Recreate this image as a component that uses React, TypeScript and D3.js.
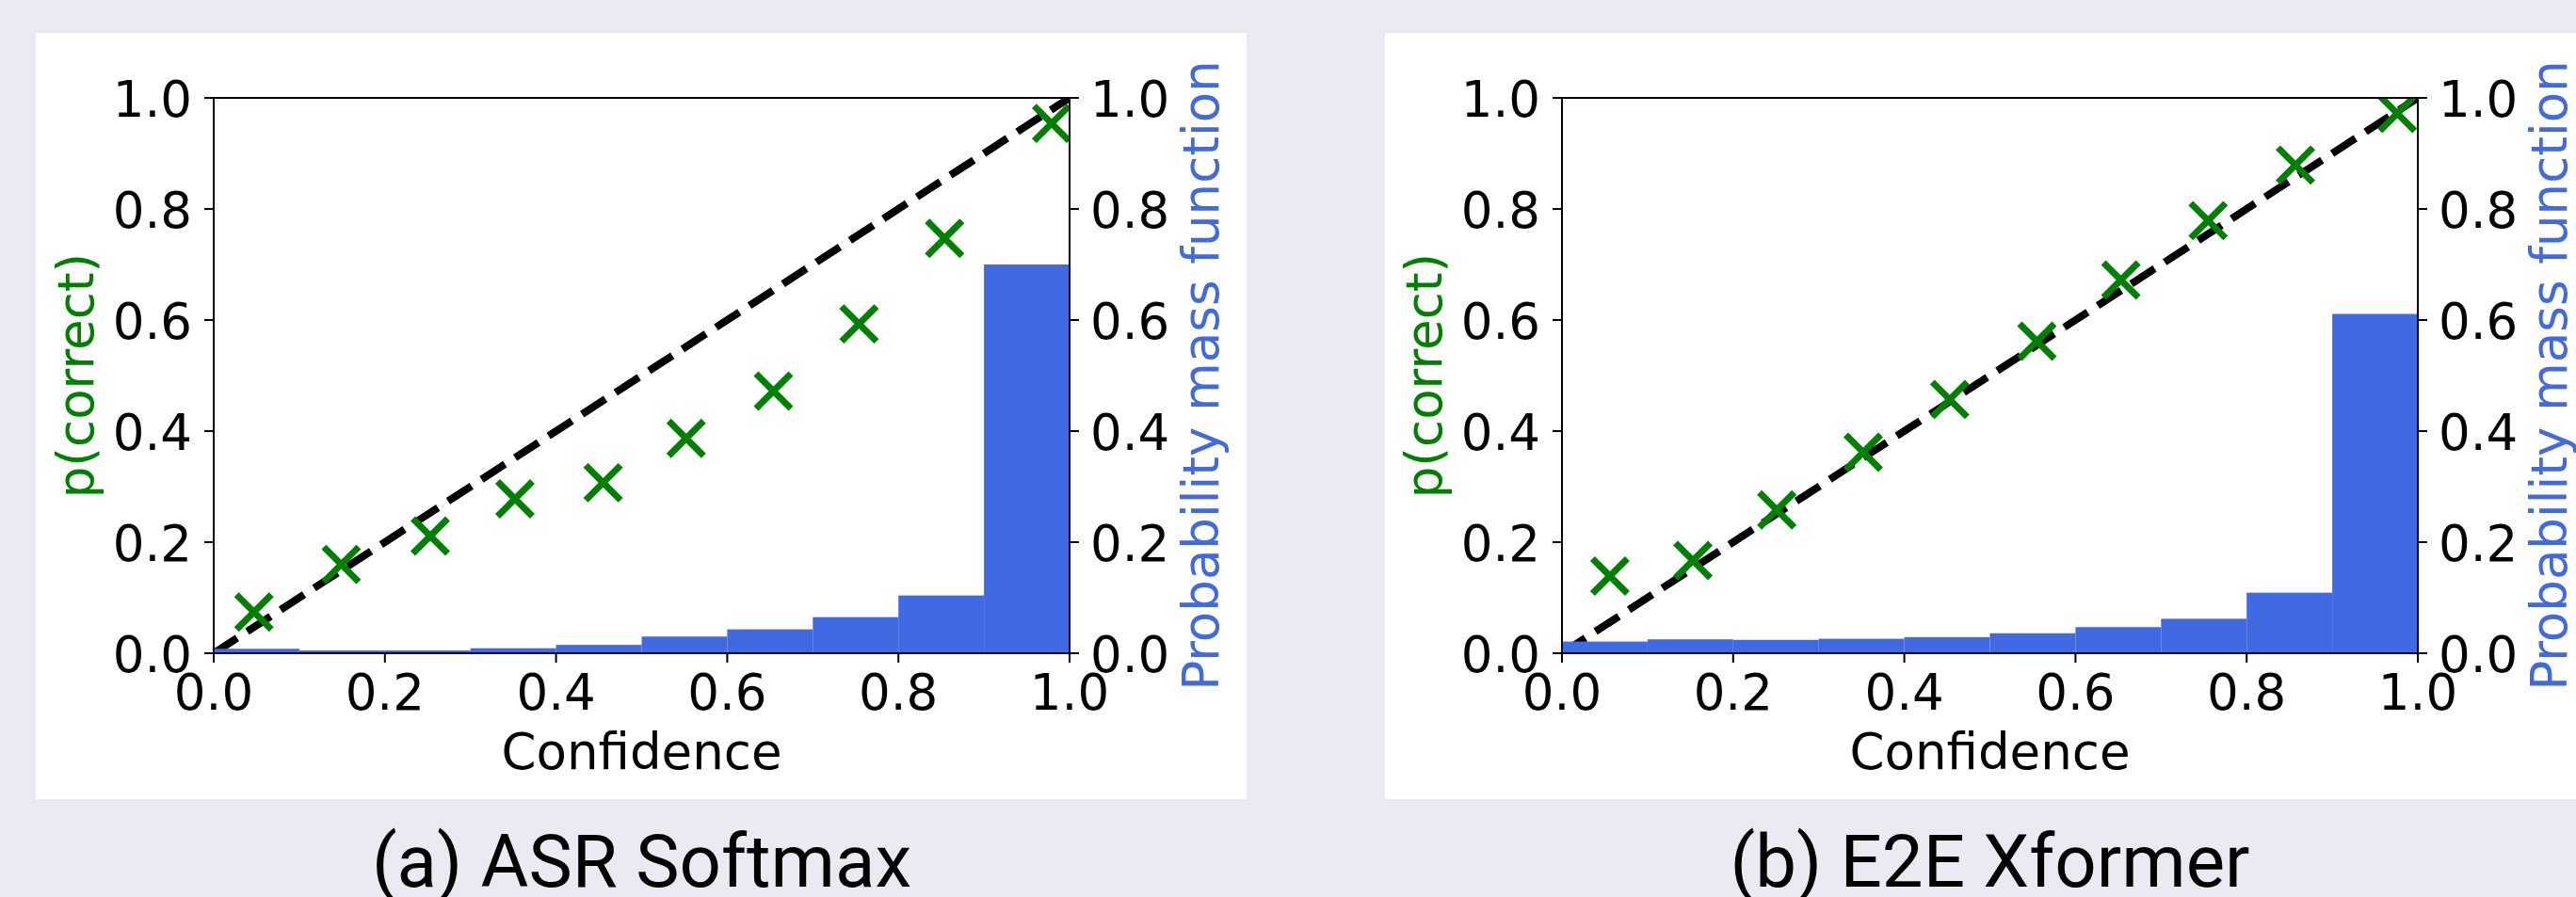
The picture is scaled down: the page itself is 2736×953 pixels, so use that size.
import React, { useEffect } from "react";
import * as d3 from "d3";

// reliability diagrams: accuracy per confidence bin + pmf of confidences
const binStarts = [0.0, 0.1, 0.2, 0.3, 0.4, 0.5, 0.6, 0.7, 0.8, 0.9];
const tickValues = [0.0, 0.2, 0.4, 0.6, 0.8, 1.0];

const softmaxConf = [0.047, 0.149, 0.253, 0.352, 0.455, 0.552, 0.654, 0.754, 0.854, 0.979];
const softmaxAcc = [0.074, 0.160, 0.211, 0.278, 0.307, 0.387, 0.472, 0.593, 0.747, 0.954];
const softmaxPmf = [0.008, 0.005, 0.005, 0.009, 0.015, 0.030, 0.043, 0.065, 0.104, 0.700];

const xformerConf = [0.056, 0.153, 0.251, 0.352, 0.453, 0.555, 0.653, 0.755, 0.857, 0.976];
const xformerAcc = [0.139, 0.167, 0.258, 0.362, 0.457, 0.562, 0.672, 0.779, 0.879, 0.972];
const xformerPmf = [0.021, 0.025, 0.024, 0.026, 0.029, 0.036, 0.047, 0.062, 0.109, 0.611];

const captions = ["(a) ASR Softmax", "(b) E2E Xformer"];

const W = 2736, H = 953;
const FONT = "'DejaVu Sans', sans-serif";
const FS = 53;
const GREEN = "#008000";
const BLUE = "#4169E1";

type PanelProps = {
  id: string;
  conf: number[];
  acc: number[];
  pmf: number[];
  caption: string;
  left: number;
  right: number;
  boxX: number;
  boxW: number;
};

const Panel = ({ id, conf, acc, pmf, caption, left, right, boxX, boxW }: PanelProps) => {
  const top = 104, bottom = 694;
  const x = d3.scaleLinear().domain([0, 1]).range([left, right]);
  const y1 = d3.scaleLinear().domain([0, 1]).range([bottom, top]);
  const y2 = d3.scaleLinear().domain([0, 1]).range([bottom, top]);
  const diag = d3.line<number>().x(d => x(d)).y(d => y1(d))([0, 1]) || "";
  const cx = (left + right) / 2, cy = (top + bottom) / 2;
  const m = 18.5;
  return (
    <g>
      <rect x={boxX} y={35} width={boxW} height={814} fill="#ffffff" />
      <defs>
        <clipPath id={"clip-" + id}>
          <rect x={left} y={top} width={right - left} height={bottom - top} />
        </clipPath>
      </defs>
      <g clipPath={`url(#clip-${id})`}>
        <path d={diag} stroke="#000" strokeWidth={8} strokeDasharray="29.6 12.8" fill="none" />
        {conf.map((c, i) => {
          const px = x(c), py = y1(acc[i]);
          return (
            <path key={i} d={`M${px - m},${py - m}L${px + m},${py + m}M${px - m},${py + m}L${px + m},${py - m}`}
              stroke={GREEN} strokeWidth={7} fill="none" />
          );
        })}
        {binStarts.map((b, i) => (
          <rect key={i} x={x(b)} y={y2(pmf[i])} width={x(b + 0.1) - x(b)} height={bottom - y2(pmf[i])} fill={BLUE} />
        ))}
      </g>
      <rect x={left} y={top} width={right - left} height={bottom - top} fill="none" stroke="#000" strokeWidth={2} />
      {tickValues.map((t, i) => (
        <g key={"x" + i}>
          <line x1={x(t)} x2={x(t)} y1={bottom} y2={bottom + 10} stroke="#000" strokeWidth={2} />
          <text x={x(t)} y={bottom + 60} textAnchor="middle" fontFamily={FONT} fontSize={FS}>{t.toFixed(1)}</text>
          <line x1={left - 10} x2={left} y1={y1(t)} y2={y1(t)} stroke="#000" strokeWidth={2} />
          <text x={left - 23} y={y1(t) + 20} textAnchor="end" fontFamily={FONT} fontSize={FS}>{t.toFixed(1)}</text>
          <line x1={right} x2={right + 10} y1={y2(t)} y2={y2(t)} stroke="#000" strokeWidth={2} />
          <text x={right + 22} y={y2(t) + 20} textAnchor="start" fontFamily={FONT} fontSize={FS}>{t.toFixed(1)}</text>
        </g>
      ))}
      <text x={cx} y={bottom + 123} textAnchor="middle" fontFamily={FONT} fontSize={FS}>Confidence</text>
      <text transform={`translate(${left - 128},${cy}) rotate(-90)`} textAnchor="middle" fontFamily={FONT} fontSize={FS} fill={GREEN}>p(correct)</text>
      <text transform={`translate(${right + 158},${cy}) rotate(-90)`} textAnchor="middle" fontFamily={FONT} fontSize={FS} fill={BLUE}>Probability mass function</text>
      <text x={cx} y={942} textAnchor="middle" fontFamily="Roboto, sans-serif" fontSize={78} fill="#000">{caption}</text>
    </g>
  );
};

const App = () => {
  useEffect(() => {
    document.body.style.margin = "0";
    document.body.style.overflow = "hidden";
  }, []);
  return (
    <svg width={W} height={H} style={{ position: "absolute", left: 0, top: 0, display: "block" }}>
      <rect x={0} y={0} width={W} height={H} fill="#EAEAF2" />
      <Panel id="a" conf={softmaxConf} acc={softmaxAcc} pmf={softmaxPmf} caption={captions[0]}
        left={227} right={1136} boxX={38} boxW={1286} />
      <Panel id="b" conf={xformerConf} acc={xformerAcc} pmf={xformerPmf} caption={captions[1]}
        left={1659} right={2568} boxX={1471} boxW={1265} />
    </svg>
  );
};

export default App;
